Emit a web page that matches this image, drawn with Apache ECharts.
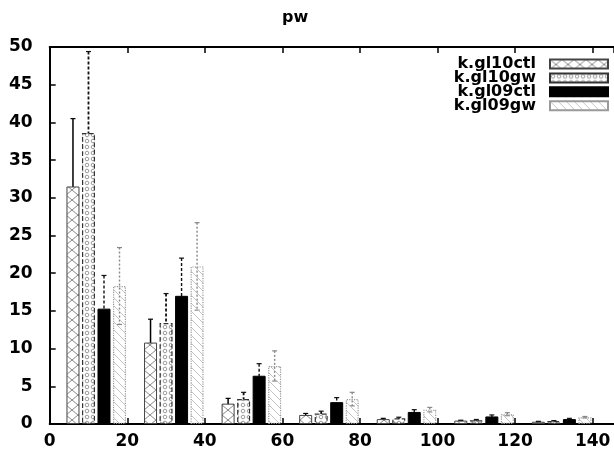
<!DOCTYPE html>
<html>
<head>
<meta charset="utf-8">
<script src="https://cdn.jsdelivr.net/npm/echarts@6/dist/echarts.min.js"></script>
<style>
html,body{margin:0;padding:0;background:#fff;}
#c{width:614px;height:456px;}
</style>
</head>
<body>
<div id="c"></div>
<script>
// ---- data ----
var binStarts = [0, 20, 40, 60, 80, 100, 120];
var seriesNames = ['k.gl10ctl', 'k.gl10gw', 'k.gl09ctl', 'k.gl09gw'];
var binOffsets = [6, 10, 14, 18];
var gl10ctl = [31.5, 10.8, 2.7, 1.2, 0.65, 0.45, 0.3];
var gl10ctlErr = [9.0, 3.1, 0.7, 0.2, 0.1, 0.05, 0.05];
var gl10gw = [38.6, 13.4, 3.3, 1.4, 0.75, 0.5, 0.4];
var gl10gwErr = [10.8, 3.9, 0.9, 0.3, 0.15, 0.1, 0.05];
var gl09ctl = [15.3, 17.0, 6.4, 2.9, 1.6, 1.0, 0.65];
var gl09ctlErr = [4.4, 5.0, 1.6, 0.6, 0.3, 0.2, 0.1];
var gl09gw = [18.3, 20.9, 7.7, 3.3, 1.9, 1.3, 0.9];
var gl09gwErr = [5.1, 5.8, 2.0, 0.9, 0.3, 0.2, 0.1];
var xTicks = [0, 20, 40, 60, 80, 100, 120, 140];
var yTicks = [0, 5, 10, 15, 20, 25, 30, 35, 40, 45, 50];

var values = [gl10ctl, gl10gw, gl09ctl, gl09gw];
var errs = [gl10ctlErr, gl10gwErr, gl09ctlErr, gl09gwErr];

// ---- patterns ----
function makeTile(w, h, draw) {
  var c = document.createElement('canvas');
  c.width = w; c.height = h;
  var g = c.getContext('2d');
  draw(g, w, h);
  return c;
}
var patCross = makeTile(12, 10, function (g, w, h) {
  g.fillStyle = '#fff'; g.fillRect(0, 0, w, h);
  g.strokeStyle = '#8a8a8a'; g.lineWidth = 1;
  g.beginPath();
  g.moveTo(0, 0); g.lineTo(w, h);
  g.moveTo(w, 0); g.lineTo(0, h);
  g.stroke();
});
var patDots = makeTile(6, 6, function (g, w, h) {
  g.fillStyle = '#fff'; g.fillRect(0, 0, w, h);
  g.strokeStyle = '#9a9a9a'; g.lineWidth = 1;
  g.beginPath(); g.arc(3, 3, 1.8, 0, Math.PI * 2); g.stroke();
});
var patDiag = makeTile(8, 8, function (g, w, h) {
  g.strokeStyle = '#c4c4c4'; g.lineWidth = 1;
  g.beginPath();
  g.moveTo(0, 0); g.lineTo(w, h);
  g.moveTo(-w, 0); g.lineTo(w, 2 * h);
  g.moveTo(0, -h); g.lineTo(2 * w, h);
  g.stroke();
});

var barStyles = [
  { color: { image: patCross, repeat: 'repeat' }, borderColor: '#444', borderWidth: 1, borderType: 'solid' },
  { color: { image: patDots, repeat: 'repeat' }, borderColor: '#333', borderWidth: 1.2, borderType: 'dashed' },
  { color: '#000', borderColor: '#000', borderWidth: 1, borderType: 'solid' },
  { color: { image: patDiag, repeat: 'repeat' }, borderColor: '#9a9a9a', borderWidth: 1.2, borderType: 'dotted' }
];
var errStyles = [
  { stroke: '#000', lineWidth: 1.5, lineDash: null },
  { stroke: '#111', lineWidth: 1.8, lineDash: [3, 2] },
  { stroke: '#111', lineWidth: 1.4, lineDash: [3, 2] },
  { stroke: '#888', lineWidth: 1.4, lineDash: [2, 2] }
];

var series = [];
seriesNames.forEach(function (name, si) {
  var barData = binStarts.map(function (b, i) { return [b + binOffsets[si], values[si][i]]; });
  var errData = binStarts.map(function (b, i) { return [b + binOffsets[si], values[si][i], errs[si][i]]; });
  series.push({
    name: name, type: 'bar', data: barData, barWidth: 13, barGap: '-100%',
    itemStyle: barStyles[si], z: 3, animation: false, silent: true
  });
  var es = errStyles[si];
  series.push({
    name: name + '_err', type: 'custom', data: errData, z: 2, animation: false, silent: true,
    renderItem: function (params, api) {
      var x = api.value(0), v = api.value(1), e = api.value(2);
      var t = api.coord([x, v + e]);
      var b = api.coord([x, v - e]);
      var style = { stroke: es.stroke, lineWidth: es.lineWidth, lineDash: es.lineDash, fill: null };
      return {
        type: 'group', children: [
          { type: 'line', shape: { x1: t[0], y1: t[1], x2: b[0], y2: b[1] }, style: style },
          { type: 'line', shape: { x1: t[0] - 2.5, y1: t[1], x2: t[0] + 2.5, y2: t[1] }, style: { stroke: es.stroke, lineWidth: 1.2 } },
          { type: 'line', shape: { x1: b[0] - 2.5, y1: b[1], x2: b[0] + 2.5, y2: b[1] }, style: { stroke: es.stroke, lineWidth: 1.2 } }
        ]
      };
    }
  });
});

var FONT = 'DejaVu Sans, Arial, sans-serif';
var axisFont = { color: '#000', fontSize: 17, fontWeight: 'bold', fontFamily: FONT };

var legends = seriesNames.map(function (name, i) {
  return {
    data: [name], orient: 'vertical', align: 'right', right: 5, top: 56 + i * 13.9, padding: 0,
    itemWidth: 58, itemHeight: 9, icon: 'rect', selectedMode: false,
    textStyle: { color: '#000', fontSize: 16, fontWeight: 'bold', lineHeight: 12, padding: [0, 9, 0, 0], fontFamily: FONT }
  };
});

var chart = echarts.init(document.getElementById('c'), null, { renderer: 'canvas' });
chart.setOption({
  backgroundColor: '#fff',
  animation: false,
  title: {
    text: 'pw', left: 277, top: 5,
    textStyle: { color: '#000', fontSize: 16, fontWeight: 'bold', fontFamily: FONT }
  },
  legend: legends,
  grid: { left: 49.7, top: 47, right: 0, bottom: 32 },
  xAxis: [
    {
      type: 'value', min: 0, max: 145.5, interval: 20, position: 'bottom',
      axisLine: { show: true, lineStyle: { color: '#000', width: 2 } },
      axisTick: { show: true, inside: true, length: 6, lineStyle: { color: '#000', width: 1.5 } },
      axisLabel: {
        ...axisFont, margin: 9, showMaxLabel: false,
        formatter: function (v) { return xTicks.indexOf(v) >= 0 ? String(v) : ''; }
      },
      splitLine: { show: false }
    },
    {
      type: 'value', min: 0, max: 145.5, interval: 20, position: 'top',
      axisLine: { show: true, lineStyle: { color: '#000', width: 2 } },
      axisTick: { show: true, inside: true, length: 6, lineStyle: { color: '#000', width: 1.5 } },
      axisLabel: { show: false }, splitLine: { show: false }
    }
  ],
  yAxis: {
    type: 'value', min: 0, max: 50, interval: 5,
    axisLine: { show: true, lineStyle: { color: '#000', width: 2 } },
    axisTick: { show: true, inside: true, length: 6, lineStyle: { color: '#000', width: 1.5 } },
    axisLabel: {
      ...axisFont, margin: 17,
      formatter: function (v) { return yTicks.indexOf(v) >= 0 ? String(v) : ''; }
    },
    splitLine: { show: false }
  },
  series: series
});
</script>
</body>
</html>
